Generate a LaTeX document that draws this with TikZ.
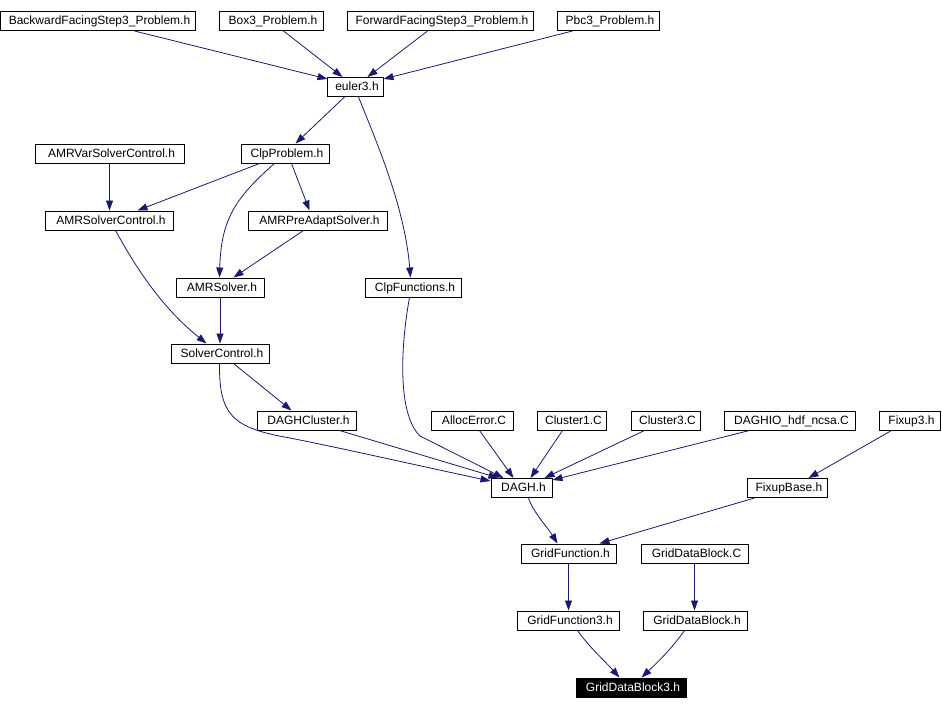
\documentclass[tikz,border=0pt]{standalone}
\usepackage{fontspec}
\setmainfont{Liberation Sans}
\usetikzlibrary{arrows.meta}
\definecolor{edgeblue}{HTML}{191970}
\begin{document}
\begin{tikzpicture}[x=1pt,y=-1pt,
  box/.style={draw=black, line width=1pt, inner sep=0pt, minimum height=19pt,
    text height=9pt, text depth=2pt, font=\fontsize{12}{14}\selectfont, anchor=center,
    execute at begin node={\hspace*{4pt}}},
  hilite/.style={box, fill=black, text=white},
  dep/.style={draw=edgeblue, line width=0.8pt, -{Triangle[length=10pt,width=7pt]}, edgeblue}]
\useasboundingbox (0,0) rectangle (942,709);
% row 1
\node[box, minimum width=195pt] (bfs) at (97.5,21) {BackwardFacingStep3\_Problem.h};
\node[box, minimum width=104pt] (box3) at (271,21) {Box3\_Problem.h};
\node[box, minimum width=186pt] (ffs) at (440,21) {ForwardFacingStep3\_Problem.h};
\node[box, minimum width=102pt] (pbc) at (608,21) {Pbc3\_Problem.h};
% euler
\node[box, minimum width=56pt] (euler) at (355,87) {euler3.h};
% row 3
\node[box, minimum width=149pt] (amrvar) at (109.5,153.5) {AMRVarSolverControl.h};
\node[box, minimum width=88pt] (clpp) at (285,153.5) {ClpProblem.h};
% row 4
\node[box, minimum width=128pt] (amrsc) at (109,220.5) {AMRSolverControl.h};
\node[box, minimum width=139pt] (amrpre) at (317.5,220.5) {AMRPreAdaptSolver.h};
% row 5
\node[box, minimum width=88pt] (amrs) at (220,287.5) {AMRSolver.h};
\node[box, minimum width=96pt] (clpf) at (413,287.5) {ClpFunctions.h};
% row 6
\node[box, minimum width=98pt] (sc) at (220,353.5) {SolverControl.h};
% row 7
\node[box, minimum width=99pt] (daghc) at (306.5,420.5) {DAGHCluster.h};
\node[box, minimum width=82pt] (alloc) at (472,420.5) {AllocError.C};
\node[box, minimum width=69pt] (c1) at (571.5,420.5) {Cluster1.C};
\node[box, minimum width=69pt] (c3) at (665.5,420.5) {Cluster3.C};
\node[box, minimum width=131pt] (dio) at (789.5,420.5) {DAGHIO\_hdf\_ncsa.C};
\node[box, minimum width=61pt] (fix3) at (909.5,420.5) {Fixup3.h};
% row 8
\node[box, minimum width=61pt] (dagh) at (521.5,488) {DAGH.h};
\node[box, minimum width=80pt] (fixb) at (787,488) {FixupBase.h};
% row 9
\node[box, minimum width=95pt] (gf) at (568.5,553.5) {GridFunction.h};
\node[box, minimum width=107pt] (gdbc) at (694.5,553.5) {GridDataBlock.C};
% row 10
\node[box, minimum width=102pt] (gf3) at (568,620.5) {GridFunction3.h};
\node[box, minimum width=104pt] (gdbh) at (695,620.5) {GridDataBlock.h};
% row 11
\node[hilite, minimum width=110pt] (gdb3) at (631,687.5) {GridDataBlock3.h};

% edges
\draw[dep] ([xshift=135pt]bfs.south west) -- ([xshift=1pt,yshift=-2pt]euler.north west);
\draw[dep] ([xshift=65pt]box3.south west) -- ([xshift=16pt]euler.north west);
\draw[dep] ([xshift=81pt]ffs.south west) -- ([xshift=41pt]euler.north west);
\draw[dep] ([xshift=16pt]pbc.south west) -- ([yshift=-2pt]euler.north east);
\draw[dep] ([xshift=18pt]euler.south west) -- ([xshift=55pt]clpp.north west);
\draw[dep] ([xshift=32pt]euler.south west) .. controls (380,150) and (405,210) .. ([xshift=46pt]clpf.north west);
\draw[dep] (amrvar.south) -- (amrvar.south |- amrsc.north);
\draw[dep] ([xshift=19pt]clpp.south west) -- ([xshift=93pt]amrsc.north west);
\draw[dep] ([xshift=34pt]clpp.south west) .. controls (235,198) and (221,220) .. ([xshift=44pt]amrs.north west);
\draw[dep] ([xshift=51pt]clpp.south west) -- ([xshift=62pt]amrpre.north west);
\draw[dep] ([xshift=56pt]amrpre.south west) -- ([xshift=58pt]amrs.north west);
\draw[dep] ([xshift=71pt]amrsc.south west) .. controls (140,275) and (165,310) .. ([xshift=36pt]sc.north west);
\draw[dep] (amrs.south) -- (amrs.south |- sc.north);
\draw[dep] ([xshift=63pt]sc.south west) -- ([xshift=35pt]daghc.north west);
\draw[dep] ([xshift=49pt]sc.south west) .. controls (219,415) and (232,428) .. (290,438)
  .. controls (350,450) and (420,466) .. ([yshift=-3pt]dagh.north west);
\draw[dep] ([xshift=83pt]daghc.south west) -- ([xshift=8pt]dagh.north west);
\draw[dep] ([xshift=45pt]clpf.south west) .. controls (400,350) and (398,415) .. (420,436)
  -- ([xshift=13pt]dagh.north west);
\draw[dep] ([xshift=49pt]alloc.south west) -- ([xshift=23pt]dagh.north west);
\draw[dep] ([xshift=26pt]c1.south west) -- ([xshift=40pt]dagh.north west);
\draw[dep] ([xshift=14pt]c3.south west) -- ([xshift=54pt]dagh.north west);
\draw[dep] ([xshift=26pt]dio.south west) -- ([yshift=-2pt]dagh.north east);
\draw[dep] ([xshift=13pt]fix3.south west) -- ([xshift=62pt]fixb.north west);
\draw[dep] ([xshift=38pt]dagh.south west) .. controls (533,512) and (548,528) .. ([xshift=37pt]gf.north west);
\draw[dep] ([xshift=8pt]fixb.south west) -- ([xshift=79pt]gf.north west);
\draw[dep] (gf.south) -- (gf.south |- gf3.north);
\draw[dep] (gdbc.south) -- (gdbc.south |- gdbh.north);
\draw[dep] ([xshift=61pt]gf3.south west) .. controls (590,648) and (602,658) .. ([xshift=44pt]gdb3.north west);
\draw[dep] ([xshift=42pt]gdbh.south west) .. controls (672,648) and (660,660) .. ([xshift=66pt]gdb3.north west);
\end{tikzpicture}
\end{document}
